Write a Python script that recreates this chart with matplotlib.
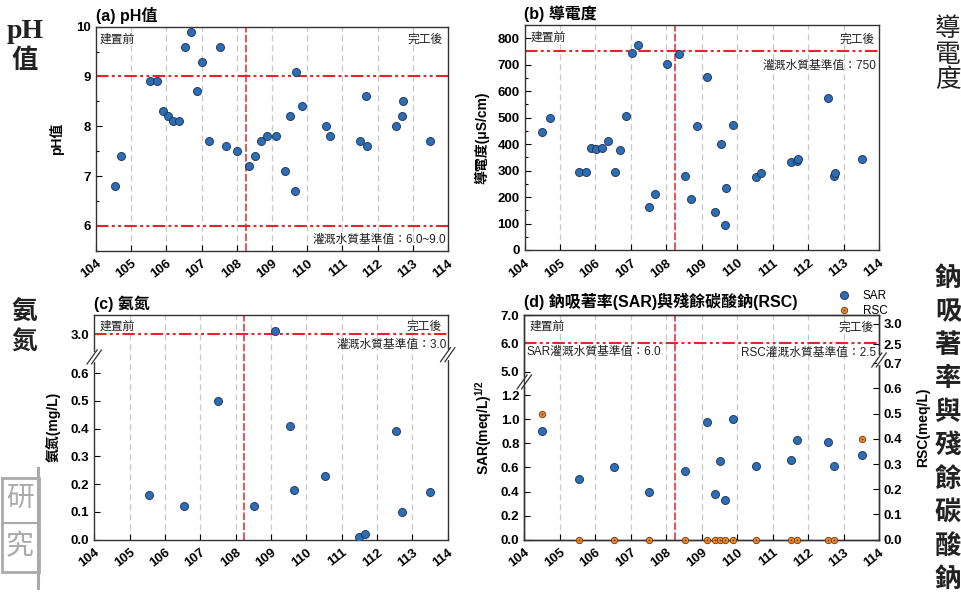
import numpy as np
import matplotlib.pyplot as plt
from matplotlib.ticker import MultipleLocator, FixedLocator
from matplotlib.lines import Line2D
from matplotlib.patches import Rectangle

plt.rcParams['font.family'] = ['Liberation Sans', 'Noto Sans CJK TC']
plt.rcParams['font.weight'] = 'bold'
plt.rcParams['mathtext.fontset'] = 'custom'
plt.rcParams['mathtext.bf'] = 'Liberation Sans:bold'
plt.rcParams['mathtext.rm'] = 'Liberation Sans'
plt.rcParams['axes.edgecolor'] = '#333333'
plt.rcParams['axes.linewidth'] = 1.0

# ---- datos ----
years = [104, 105, 106, 107, 108, 109, 110, 111, 112, 113, 114]
split_year = 108.25  # 建置前 / 完工後

ph_x = [104.53, 104.72, 105.54, 105.73, 105.89, 106.05, 106.19, 106.36, 106.53, 106.69,
        106.87, 107.02, 107.21, 107.52, 107.69, 108.00, 108.34, 108.52, 108.68, 108.86,
        109.12, 109.38, 109.52, 109.64, 109.67, 109.86, 110.54, 110.66, 111.49, 111.67,
        111.69, 112.53, 112.70, 112.72, 113.49]
ph = [6.8, 7.4, 8.9, 8.9, 8.3, 8.2, 8.1, 8.1, 9.6, 9.9,
      8.7, 9.3, 7.7, 9.6, 7.6, 7.5, 7.2, 7.4, 7.7, 7.8,
      7.8, 7.1, 8.2, 6.7, 9.1, 8.4, 8.0, 7.8, 7.7, 8.6,
      7.6, 8.0, 8.2, 8.5, 7.7]

ec_x = [104.50, 104.71, 105.53, 105.73, 105.88, 106.03, 106.19, 106.35, 106.54, 106.69,
        106.85, 107.03, 107.20, 107.52, 107.68, 108.01, 108.35, 108.52, 108.69, 108.87,
        109.14, 109.38, 109.53, 109.65, 109.69, 109.87, 110.54, 110.67, 111.51, 111.68,
        111.71, 112.57, 112.73, 112.75, 113.52]
ec = [447, 497, 295, 293, 385, 382, 385, 411, 293, 376,
      508, 744, 776, 164, 212, 702, 739, 278, 193, 467,
      652, 145, 401, 96, 235, 474, 276, 289, 332, 337,
      344, 573, 280, 291, 344]

nh_x = [105.54, 106.53, 107.51, 108.51, 109.12, 109.53, 109.64, 110.54, 111.50, 111.67,
        112.55, 112.72, 113.50]
nh = [0.16, 0.12, 0.50, 0.12, 3.01, 0.41, 0.18, 0.23, 0.01, 0.02, 0.39, 0.10, 0.17]

sar_x = [104.50, 105.54, 106.54, 107.52, 108.53, 109.14, 109.39, 109.53, 109.66, 109.87,
         110.54, 111.51, 111.68, 112.56, 112.73, 113.51]
sar = [0.90, 0.50, 0.60, 0.40, 0.57, 0.98, 0.38, 0.65, 0.33, 1.00,
       0.61, 0.66, 0.83, 0.81, 0.61, 0.70]
rsc = [0.50, 0, 0, 0, 0, 0, 0, 0, 0, 0, 0, 0, 0, 0, 0, 0.40]

# estilos
blue = '#2c6db4'
navy = '#1a2e55'
orange = '#f08a2a'
brown = '#6b3510'
red = '#e3262b'
gridc = '#c8c8c8'
dashdotdot = (0, (6, 1.6, 1.4, 1.6, 1.4, 1.6))
tick_fs = 9.5
W, H = 961, 598


def break_scale(lo, hi, k):
    # eje cortado: lineal hasta lo, salta a hi y sigue con pendiente k
    def fwd(v):
        v = np.asarray(v, dtype=float)
        return np.where(v <= lo, v, np.where(v >= hi, lo + (v - hi) * k, lo))

    def inv(t):
        t = np.asarray(t, dtype=float)
        return np.where(t <= lo, t, hi + (t - lo) / k)
    return fwd, inv


def setup(ax):
    ax.set_xlim(104, 114)
    ax.set_xticks(years)
    ax.set_xticklabels([str(y) for y in years], rotation=38, ha='right',
                       rotation_mode='anchor', fontsize=tick_fs, fontweight='bold')
    for yr in years[1:-1]:
        ax.axvline(yr, color=gridc, lw=0.9, ls=(0, (5, 3)), zorder=0)
    ax.axvline(split_year, color=red, lw=1.1, ls=(0, (5, 1.5)), zorder=1)
    ax.tick_params(axis='x', direction='in', length=4, width=0.8, pad=5)
    ax.tick_params(axis='y', which='both', direction='in', width=0.8, labelsize=tick_fs)
    ax.tick_params(axis='y', which='major', length=4)
    ax.tick_params(axis='y', which='minor', length=2.5)


def note(ax, x, y, s, ha='left', size=8.5):
    ax.text(x, y, s, transform=ax.transAxes, ha=ha, va='center', fontsize=size,
            fontweight='normal', color='#222222', zorder=6)


def draw_break(ax, xf, yf):
    pos = ax.get_position()
    pw, ph_ = pos.width * W, pos.height * H
    dx, dy, g = 5 / pw, 7 / ph_, 2.2 / pw
    ax.plot([xf, xf], [yf - 3 / ph_, yf + 3 / ph_], color='white', lw=3,
            transform=ax.transAxes, clip_on=False, zorder=7)
    for off in (-g, g):
        ax.plot([xf - dx + off, xf + dx + off], [yf - dy, yf + dy], color='#333333',
                lw=0.9, transform=ax.transAxes, clip_on=False, zorder=8)


def ylab(ax, s, xc, yc=0.5):
    ax.set_ylabel(s, fontsize=10, fontweight='bold')
    ax.yaxis.label.set_va('center')
    ax.yaxis.set_label_coords(xc, yc)


def bold_ticks(ax):
    for lab in ax.get_yticklabels():
        lab.set_fontweight('bold')


fig = plt.figure(figsize=(9.61, 5.98), dpi=100)

# ---- (a) pH ----
axA = fig.add_axes([96 / W, 1 - 250.7 / H, 352 / W, 224 / H])
setup(axA)
axA.plot(ph_x, ph, 'o', ms=5.8, mfc=blue, mec=navy, mew=0.6, zorder=4)
axA.set_ylim(5.5, 10)
axA.set_yticks([6, 7, 8, 9, 10])
axA.yaxis.set_minor_locator(MultipleLocator(0.5))
axA.axhline(9, color=red, lw=1.5, ls=dashdotdot, zorder=2)
axA.axhline(6, color=red, lw=1.5, ls=dashdotdot, zorder=2)
axA.set_title('(a) pH值', loc='left', fontsize=11.5, fontweight='bold', pad=4)
ylab(axA, 'pH值', -0.112)
note(axA, 0.011, 0.94, '建置前')
note(axA, 0.986, 0.94, '完工後', ha='right')
note(axA, 0.994, 0.048, '灌溉水質基準值：6.0~9.0', ha='right')

# ---- (b) 導電度 ----
axB = fig.add_axes([524.5 / W, 1 - 250 / H, 354.5 / W, 225 / H])
setup(axB)
axB.plot(ec_x, ec, 'o', ms=5.8, mfc=blue, mec=navy, mew=0.6, zorder=4)
axB.set_ylim(0, 850)
axB.set_yticks(np.arange(0, 801, 100))
axB.yaxis.set_minor_locator(MultipleLocator(50))
axB.axhline(750, color=red, lw=1.5, ls=dashdotdot, zorder=2)
axB.set_title('(b) 導電度', loc='left', fontsize=11.5, fontweight='bold', pad=4)
ylab(axB, '導電度(μS/cm)', -0.12)
note(axB, 0.016, 0.942, '建置前')
note(axB, 0.989, 0.934, '完工後', ha='right')
note(axB, 0.994, 0.819, '灌溉水質基準值：750', ha='right')

# ---- (c) 氨氮 (eje cortado) ----
axC = fig.add_axes([94.3 / W, 1 - 539.7 / H, 353.4 / W, 224.7 / H])
setup(axC)
fC = break_scale(0.658, 2.918, 1.0)
axC.set_yscale('function', functions=fC)
axC.set_ylim(0, 3.069)
axC.yaxis.set_major_locator(FixedLocator([0, 0.1, 0.2, 0.3, 0.4, 0.5, 0.6, 3.0]))
axC.yaxis.set_major_formatter(plt.FormatStrFormatter('%.1f'))
axC.yaxis.set_minor_locator(FixedLocator([]))
axC.plot(nh_x, nh, 'o', ms=5.8, mfc=blue, mec=navy, mew=0.6, zorder=4)
axC.axhline(3.0, color=red, lw=1.5, ls=dashdotdot, zorder=2)
axC.set_title('(c) 氨氮', loc='left', fontsize=11.5, fontweight='bold', pad=4)
ylab(axC, '氨氮(mg/L)', -0.118)
note(axC, 0.016, 0.947, '建置前')
note(axC, 0.984, 0.947, '完工後', ha='right')
note(axC, 0.997, 0.866, '灌溉水質基準值：3.0', ha='right')
ybrk = float(fC[0](0.658) / fC[0](3.069))
draw_break(axC, 0, ybrk)
draw_break(axC, 1, ybrk + 0.01)

# ---- (d) SAR / RSC (dos ejes cortados) ----
axD = fig.add_axes([524.3 / W, 1 - 539.7 / H, 354.7 / W, 224.7 / H])
setup(axD)
fL = break_scale(1.31, 4.644, 0.236)
axD.set_yscale('function', functions=fL)
axD.set_ylim(0, 7.0)
axD.yaxis.set_major_locator(FixedLocator([0, 0.2, 0.4, 0.6, 0.8, 1.0, 1.2, 5.0, 6.0, 7.0]))
axD.yaxis.set_major_formatter(plt.FormatStrFormatter('%.1f'))
axD.yaxis.set_minor_locator(FixedLocator([]))
axD.axhline(6.0, color=red, lw=1.5, ls=dashdotdot, zorder=2)

axD2 = axD.twinx()
fR = break_scale(0.713, 2.122, 0.164)
axD2.set_yscale('function', functions=fR)
axD2.set_ylim(0, 3.21)
axD2.yaxis.set_major_locator(FixedLocator([0, 0.1, 0.2, 0.3, 0.4, 0.5, 0.6, 0.7, 2.5, 3.0]))
axD2.yaxis.set_major_formatter(plt.FormatStrFormatter('%.1f'))
axD2.yaxis.set_minor_locator(FixedLocator([]))
axD2.tick_params(axis='y', direction='in', length=4, width=0.8, labelsize=tick_fs)

sar_pts, = axD.plot(sar_x, sar, 'o', ms=5.8, mfc=blue, mec=navy, mew=0.6, zorder=4)
rsc_pts, = axD2.plot(sar_x, rsc, 'o', ms=4.6, mfc=orange, mec=brown, mew=0.6,
                     zorder=4, clip_on=False)
rsc_dot, = axD2.plot(sar_x, rsc, 'o', ms=1.3, mfc=brown, mec=brown, mew=0,
                     zorder=5, clip_on=False)

axD.set_title('(d) 鈉吸著率(SAR)與殘餘碳酸鈉(RSC)', loc='left', fontsize=11.5,
              fontweight='bold', pad=6)
ylab(axD, r'SAR(meq/L)$^{\mathbf{1/2}}$', -0.115)
axD2.set_ylabel('RSC(meq/L)', fontsize=10, fontweight='bold')
axD2.yaxis.label.set_va('center')
axD2.yaxis.set_label_coords(1.124, 0.5)
note(axD, 0.016, 0.947, '建置前')
note(axD, 0.985, 0.942, '完工後', ha='right')
note(axD, 0.005, 0.835, 'SAR灌溉水質基準值：6.0')
note(axD, 0.993, 0.831, 'RSC灌溉水質基準值：2.5', ha='right')
draw_break(axD, 0, float(fL[0](1.31) / fL[0](7.0)))
draw_break(axD2, 1, float(fR[0](0.713) / fR[0](3.21)))

for a in (axA, axB, axC, axD, axD2):
    bold_ticks(a)

fig.legend([sar_pts, (rsc_pts, rsc_dot)], ['SAR', 'RSC'], loc='upper left',
           bbox_to_anchor=(831 / W, 1 - 284 / H), frameon=False,
           handlelength=1.2, handletextpad=1.0, labelspacing=0.25, borderpad=0,
           prop={'weight': 'normal', 'size': 8.5})

# ---- rotulos grandes a los lados ----
fig.text(25 / W, 1 - 31 / H, 'pH', family='Liberation Serif', weight='bold', size=20,
         ha='center', va='center', color='#222222')
fig.text(25 / W, 1 - 61 / H, '值', size=19, ha='center', va='center', color='#222222')
for i, ch in enumerate('導電度'):
    fig.text(948 / W, 1 - (29 + 25.5 * i) / H, ch, size=18.5, weight='medium',
             ha='center', va='center', color='#222222')
for i, ch in enumerate('氨氮'):
    fig.text(24 / W, 1 - (313 + 30 * i) / H, ch, size=18.5, ha='center', va='center',
             color='#222222')
for i, ch in enumerate('鈉吸著率與殘餘碳酸鈉'):
    fig.text(948 / W, 1 - (278.5 + 33.5 * i) / H, ch, size=19, ha='center', va='center',
             color='#222222')

# logo gris abajo a la izquierda
logo = '#a8aba8'
fig.add_artist(Rectangle((2 / W, 1 - 572 / H), 37 / W, 94 / H, transform=fig.transFigure,
                         fill=False, ec=logo, lw=2))
fig.add_artist(Line2D([38 / W, 38 / W], [1 - 468 / H, 1 - 588 / H], transform=fig.transFigure,
                      color=logo, lw=2.2))
fig.add_artist(Line2D([2 / W, 40 / W], [1 - 523 / H, 1 - 523 / H], transform=fig.transFigure,
                      color=logo, lw=1.5))
fig.text(20 / W, 1 - 500 / H, '研', size=20, weight='normal', color=logo, ha='center', va='center')
fig.text(20 / W, 1 - 547 / H, '究', size=20, weight='normal', color=logo, ha='center', va='center')

fig.savefig('out.png', dpi=100)
